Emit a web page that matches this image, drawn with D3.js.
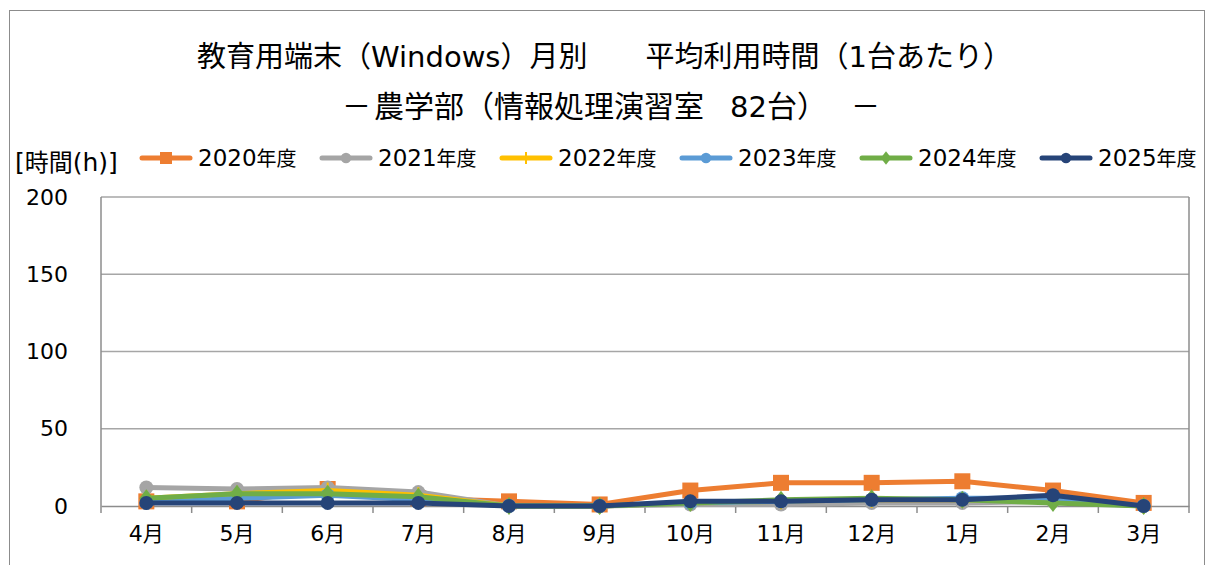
<!DOCTYPE html>
<html>
<head>
<meta charset="utf-8">
<script src="https://cdn.jsdelivr.net/npm/d3@7"></script>
<style>
  body { margin: 0; background: #fff; }
  text { font-family: "DejaVu Sans", "Noto Sans CJK JP", sans-serif; fill: #000; }
</style>
</head>
<body>
<div id="chart"></div>
<script>
const months = ["4月","5月","6月","7月","8月","9月","10月","11月","12月","1月","2月","3月"];
const yTicks = [0, 50, 100, 150, 200];

const y2020 = [3, 3, 11, 5, 3, 1, 10, 15, 15, 16, 10, 2];
const y2021 = [12, 11, 12, 9, 0, 0, 1, 1, 2, 2, 3, 0];
const y2022 = [5, 8, 10, 7, 0, 0, 2, 3, 4, 4, 4, 0];
const y2023 = [2, 5, 7, 4, 0, 0, 2, 3, 4, 5, 5, 0];
const y2024 = [5, 8, 8, 6, 0, 0, 2, 4, 5, 4, 2, 0];
const y2025 = [2, 2, 2, 2, 0, 0, 3, 3, 4, 4, 7, 0];

const seriesNames = ["2020年度","2021年度","2022年度","2023年度","2024年度","2025年度"];

// build series list from the arrays above
const series = [
  { name: seriesNames[0], values: y2020, color: "#ed7d31", marker: "square" },
  { name: seriesNames[1], values: y2021, color: "#a5a5a5", marker: "circle" },
  { name: seriesNames[2], values: y2022, color: "#ffc000", marker: "plus" },
  { name: seriesNames[3], values: y2023, color: "#5b9bd5", marker: "circle" },
  { name: seriesNames[4], values: y2024, color: "#70ad47", marker: "diamond" },
  { name: seriesNames[5], values: y2025, color: "#264478", marker: "circle" }
];

const W = 1206, H = 565;
const plot = { left: 101, right: 1189, top: 197, bottom: 506 };

const svg = d3.select("#chart").append("svg")
  .attr("width", W).attr("height", H);

// split text into latin / cjk runs so latin can be drawn a bit bigger
function richText(sel, str, latinSize, cjkSize) {
  sel.text(null);
  (str.match(/[\x00-\x7F]+|[^\x00-\x7F]+/g) || []).forEach(run => {
    const latin = /^[\x00-\x7F]+$/.test(run);
    sel.append("tspan")
      .style("font-size", (latin ? latinSize : cjkSize) + "px")
      .text(run);
  });
  return sel;
}

// outer chart frame
svg.append("rect")
  .attr("x", 9.5).attr("y", 10.5)
  .attr("width", 1195).attr("height", 600)
  .attr("fill", "none").attr("stroke", "#8c8c8c").attr("stroke-width", 1);

const x = d3.scaleBand().domain(months).range([plot.left, plot.right]);
const y = d3.scaleLinear().domain([0, 200]).range([plot.bottom, plot.top]);

// gridlines
svg.append("g").selectAll("line")
  .data(yTicks.filter(d => d > 0))
  .enter().append("line")
  .attr("x1", plot.left).attr("x2", plot.right)
  .attr("y1", d => y(d)).attr("y2", d => y(d))
  .attr("stroke", "#a6a6a6").attr("stroke-width", 1.5);

// plot frame (left/right)
svg.append("line")
  .attr("x1", plot.left).attr("x2", plot.left)
  .attr("y1", plot.top).attr("y2", plot.bottom)
  .attr("stroke", "#8c8c8c").attr("stroke-width", 1.5);
svg.append("line")
  .attr("x1", plot.right).attr("x2", plot.right)
  .attr("y1", plot.top).attr("y2", plot.bottom)
  .attr("stroke", "#8c8c8c").attr("stroke-width", 1.5);

// y axis
const yAxis = svg.append("g")
  .attr("transform", `translate(${plot.left},0)`)
  .call(d3.axisLeft(y).tickValues(yTicks).tickSize(0).tickPadding(33));
yAxis.select(".domain").remove();
yAxis.selectAll("text")
  .style("font-size", "22px")
  .style("font-family", "'DejaVu Sans', sans-serif")
  .attr("fill", "#000");

// x axis
const xAxis = svg.append("g")
  .attr("transform", `translate(0,${plot.bottom})`)
  .call(d3.axisBottom(x).tickSize(0).tickPadding(28));
xAxis.select(".domain").attr("stroke", "#8c8c8c").attr("stroke-width", 1.5);
xAxis.selectAll("text").attr("fill", "#000")
  .each(function(d) { richText(d3.select(this), d, 22, 21); });

// category boundary ticks
svg.append("g").selectAll("line")
  .data(months.concat([null]))
  .enter().append("line")
  .attr("x1", (d, i) => plot.left + i * x.step())
  .attr("x2", (d, i) => plot.left + i * x.step())
  .attr("y1", plot.bottom).attr("y2", plot.bottom + 7)
  .attr("stroke", "#8c8c8c").attr("stroke-width", 1.5);

const line = d3.line()
  .x((d, i) => x(months[i]) + x.bandwidth() / 2)
  .y(d => y(d));

function drawMarker(g, type, color, cx, cy, scale) {
  const s = scale || 1;
  if (type === "square") {
    g.append("rect").attr("x", cx - 8 * s).attr("y", cy - 8 * s)
      .attr("width", 16 * s).attr("height", 16 * s).attr("fill", color);
  } else if (type === "circle") {
    g.append("circle").attr("cx", cx).attr("cy", cy).attr("r", 7 * s).attr("fill", color);
  } else if (type === "diamond") {
    g.append("path")
      .attr("d", `M${cx},${cy - 9 * s}L${cx + 7 * s},${cy}L${cx},${cy + 9 * s}L${cx - 7 * s},${cy}Z`)
      .attr("fill", color);
  } else if (type === "plus") {
    g.append("path")
      .attr("d", `M${cx - 6 * s},${cy}H${cx + 6 * s}M${cx},${cy - 8 * s}V${cy + 8 * s}`)
      .attr("stroke", color).attr("stroke-width", 2);
  }
}

series.forEach(s => {
  const g = svg.append("g");
  g.append("path")
    .datum(s.values)
    .attr("d", line)
    .attr("fill", "none")
    .attr("stroke", s.color)
    .attr("stroke-width", 5)
    .attr("stroke-linejoin", "round");
  s.values.forEach((v, i) => {
    drawMarker(g, s.marker, s.color, x(months[i]) + x.bandwidth() / 2, y(v));
  });
});

// titles
richText(svg.append("text").attr("x", 197).attr("y", 67),
  "教育用端末（Windows）月別", 29, 29);
richText(svg.append("text").attr("x", 1012).attr("y", 67).attr("text-anchor", "end"),
  "平均利用時間（1台あたり）", 29, 29);

richText(svg.append("text").attr("x", 342).attr("y", 117), "－", 29, 29);
richText(svg.append("text").attr("x", 374).attr("y", 117), "農学部（情報処理演習室", 29, 30);
richText(svg.append("text").attr("x", 730).attr("y", 117), "82台）", 29, 30);
richText(svg.append("text").attr("x", 880).attr("y", 117).attr("text-anchor", "end"), "－", 29, 29);

// y axis unit
richText(svg.append("text").attr("x", 15).attr("y", 171), "[時間(h)]", 25, 24);

// legend
const legendX = [142, 322, 502, 682, 862, 1042];
series.forEach((s, i) => {
  const g = svg.append("g").attr("transform", `translate(${legendX[i]},158)`);
  g.append("line").attr("x1", 0).attr("x2", 48).attr("y1", 0).attr("y2", 0)
    .attr("stroke", s.color).attr("stroke-width", 5).attr("stroke-linecap", "round");
  drawMarker(g, s.marker, s.color, 24, 0, 0.75);
  richText(g.append("text").attr("x", 56).attr("y", 8), s.name, 23, 20);
});
</script>
</body>
</html>
